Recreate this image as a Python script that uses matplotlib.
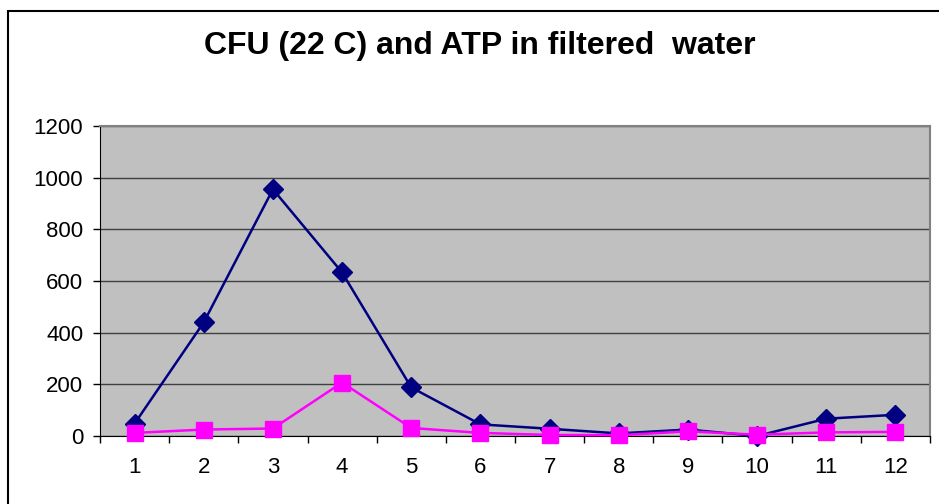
import matplotlib
matplotlib.use("Agg")
import matplotlib.pyplot as plt
from matplotlib.patches import Rectangle

categories = [str(i) for i in range(1, 13)]
cfu = [48, 440, 955, 633, 188, 45, 28, 10, 25, 0, 67, 82]
atp = [12, 25, 29, 207, 31, 12, 4, 3, 18, 5, 14, 16]
yticks = [0, 200, 400, 600, 800, 1000, 1200]

plt.rcParams['font.family'] = ['Liberation Sans', 'DejaVu Sans']

fig = plt.figure(figsize=(9.39, 5.04), dpi=100)
fig.patch.set_facecolor('white')
# outer chart frame
fig.add_artist(Rectangle((8/939, -0.05), 1.2, 1 - 11/504 + 0.05, transform=fig.transFigure,
                         fill=False, edgecolor='black', linewidth=1.5))

ax = fig.add_axes([100/939, 1 - 436/504, (930 - 100)/939, (436 - 126)/504])
ax.set_facecolor('#C0C0C0')
x = list(range(1, 13))
ax.set_xlim(0.5, 12.5)
ax.set_ylim(0, 1200)
ax.set_yticks(yticks)
ax.set_yticklabels([str(v) for v in yticks], fontsize=16)
ax.set_xticks(x)
ax.set_xticklabels(categories, fontsize=16)
ax.set_xticks([i + 0.5 for i in range(0, 13)], minor=True)
ax.tick_params(axis='x', which='major', length=0, pad=15)
ax.tick_params(axis='x', which='minor', length=5, width=1, direction='out', color='black')
ax.tick_params(axis='y', length=5, width=1, direction='out', pad=7)
ax.yaxis.grid(True, color='#404040', linewidth=1)
ax.set_axisbelow(True)
for s in ['top', 'right']:
    ax.spines[s].set_color('#808080')
    ax.spines[s].set_linewidth(1.5)
ax.spines['left'].set_color('black')
ax.spines['bottom'].set_color('black')

ax.plot(x, cfu, color='#000080', linewidth=1.8, marker='D', markersize=10,
        markerfacecolor='#000080', markeredgecolor='#000080', clip_on=False, zorder=3)
ax.plot(x, atp, color='#FF00FF', linewidth=1.8, marker='s', markersize=11,
        markerfacecolor='#FF00FF', markeredgecolor='#FF00FF', clip_on=False, zorder=4)

fig.text(480/939, 1 - 46/504, 'CFU (22 C) and ATP in filtered  water', ha='center', va='center',
         fontsize=23, fontweight='bold')

fig.savefig('out.png', dpi=100)
